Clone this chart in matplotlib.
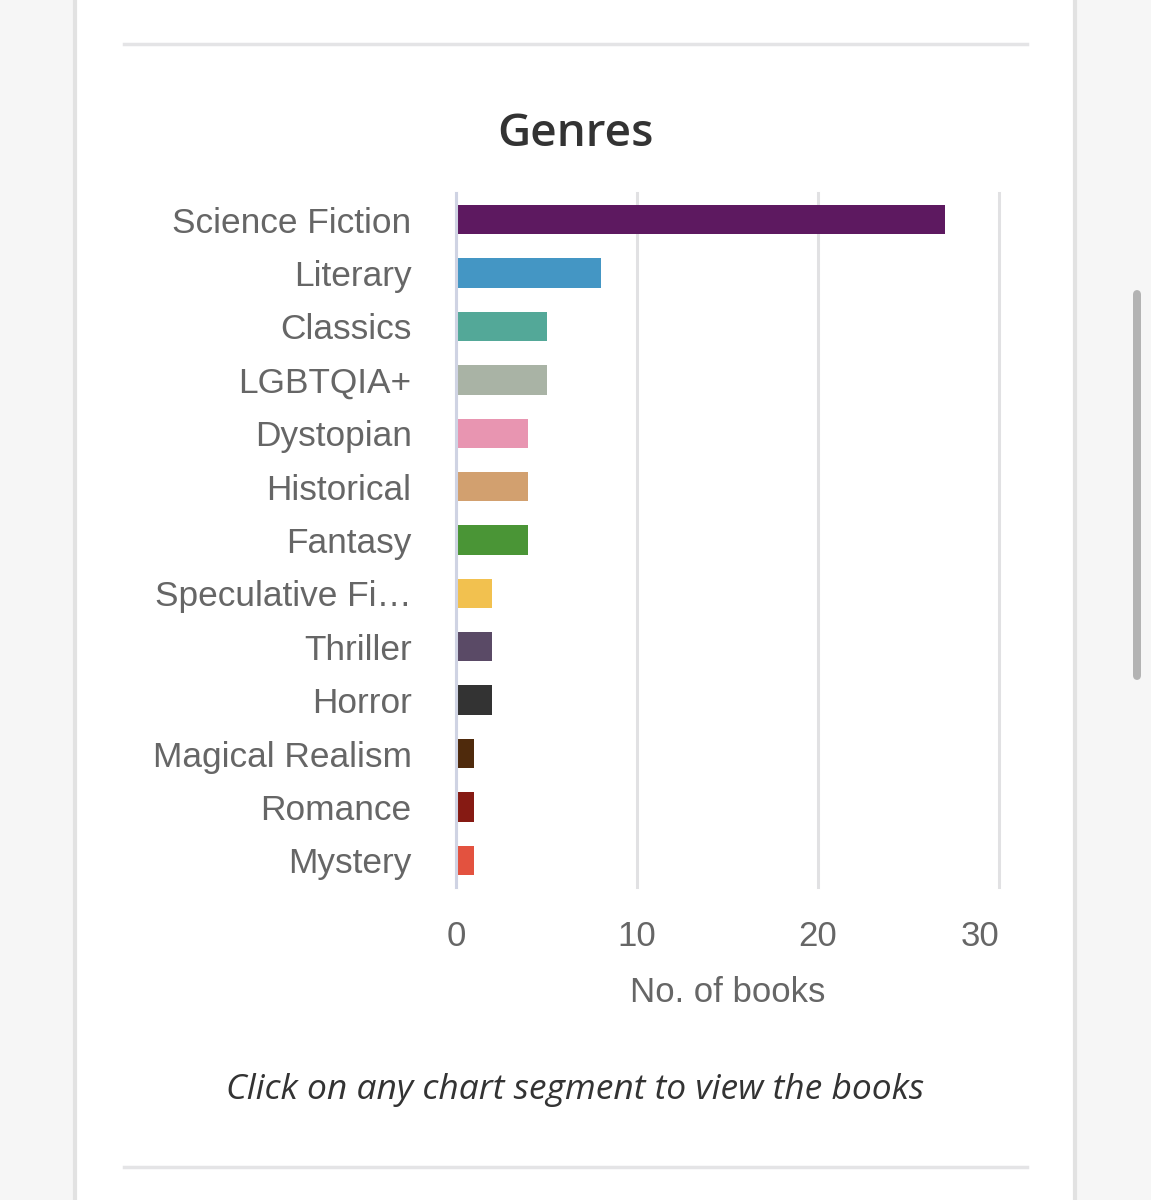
import matplotlib
matplotlib.use("Agg")
import matplotlib.pyplot as plt
from matplotlib.patches import Rectangle, FancyBboxPatch
from matplotlib.lines import Line2D

# data
genres = ["Science Fiction", "Literary", "Classics", "LGBTQIA+", "Dystopian",
          "Historical", "Fantasy", "Speculative Fi\u2026", "Thriller", "Horror",
          "Magical Realism", "Romance", "Mystery"]
counts = [27, 8, 5, 5, 4, 4, 4, 2, 2, 2, 1, 1, 1]
colors = ["#5d1960", "#4496c4", "#53a898", "#a9b3a5", "#e895b1",
          "#d2a06f", "#4a9536", "#f2c14f", "#5a4a66", "#333333",
          "#4f2a0c", "#861a13", "#e3523f"]
x_ticks = [0, 10, 20, 30]

W, H = 1151, 1200
fig = plt.figure(figsize=(W / 100, H / 100), dpi=100)
fig.patch.set_facecolor("#f6f6f6")


def fx(px):
    return px / W


def fy(py):
    return 1 - py / H


# page card + separators + scrollbar
fig.add_artist(Rectangle((fx(75), -0.05), fx(1000), 1.1, transform=fig.transFigure,
                         facecolor="white", edgecolor="#e2e2e2", lw=3, zorder=0))
for yy in (44, 1167):
    fig.add_artist(Line2D([fx(124), fx(1027)], [fy(yy), fy(yy)],
                          transform=fig.transFigure, color="#e4e4e6", lw=2.5))
fig.add_artist(FancyBboxPatch((fx(1133), fy(680)), fx(8), fy(290) - fy(680),
                              boxstyle="round,pad=0,rounding_size=0.004",
                              transform=fig.transFigure, facecolor="#b3b3b3",
                              edgecolor="none"))

ax = fig.add_axes((fx(456), fy(887), fx(999) - fx(456), fy(193) - fy(887)))
ax.set_facecolor("none")
y = list(range(len(genres)))
ax.barh(y, counts, height=0.55, color=colors, zorder=3)
ax.set_ylim(len(genres) - 0.5, -0.5)
ax.set_xlim(0, 30)
ax.set_yticks(y)
ax.set_yticklabels(genres, family="Liberation Sans", fontsize=25.4, color="#666666")
ax.set_xticks(x_ticks)
ax.set_xticklabels([str(t) for t in x_ticks], family="Liberation Sans",
                   fontsize=25, color="#666666")
ax.get_xticklabels()[-1].set_ha("right")
ax.tick_params(axis="y", length=0, pad=32)
ax.tick_params(axis="x", length=0, pad=24)
ax.grid(axis="x", color="#e1e1e3", lw=2.2, zorder=0)
for gl in ax.get_xgridlines():
    gl.set_clip_on(False)
for s in ("top", "right", "bottom"):
    ax.spines[s].set_visible(False)
ax.spines["left"].set_color("#cfd3e3")
ax.spines["left"].set_linewidth(2.2)
ax.spines["left"].set_zorder(4)
ax.set_xlabel("No. of books", family="Liberation Sans", fontsize=25,
              color="#666666", labelpad=16)

fig.text(fx(575), fy(134), "Genres", ha="center", va="center",
         family="Open Sans", fontweight="semibold", fontsize=33, color="#333333")
fig.text(fx(575), fy(1090), "Click on any chart segment to view the books",
         ha="center", va="center", family="Open Sans", style="italic",
         fontsize=25.5, color="#333333")

fig.savefig("out.png", dpi=100, facecolor=fig.get_facecolor())
